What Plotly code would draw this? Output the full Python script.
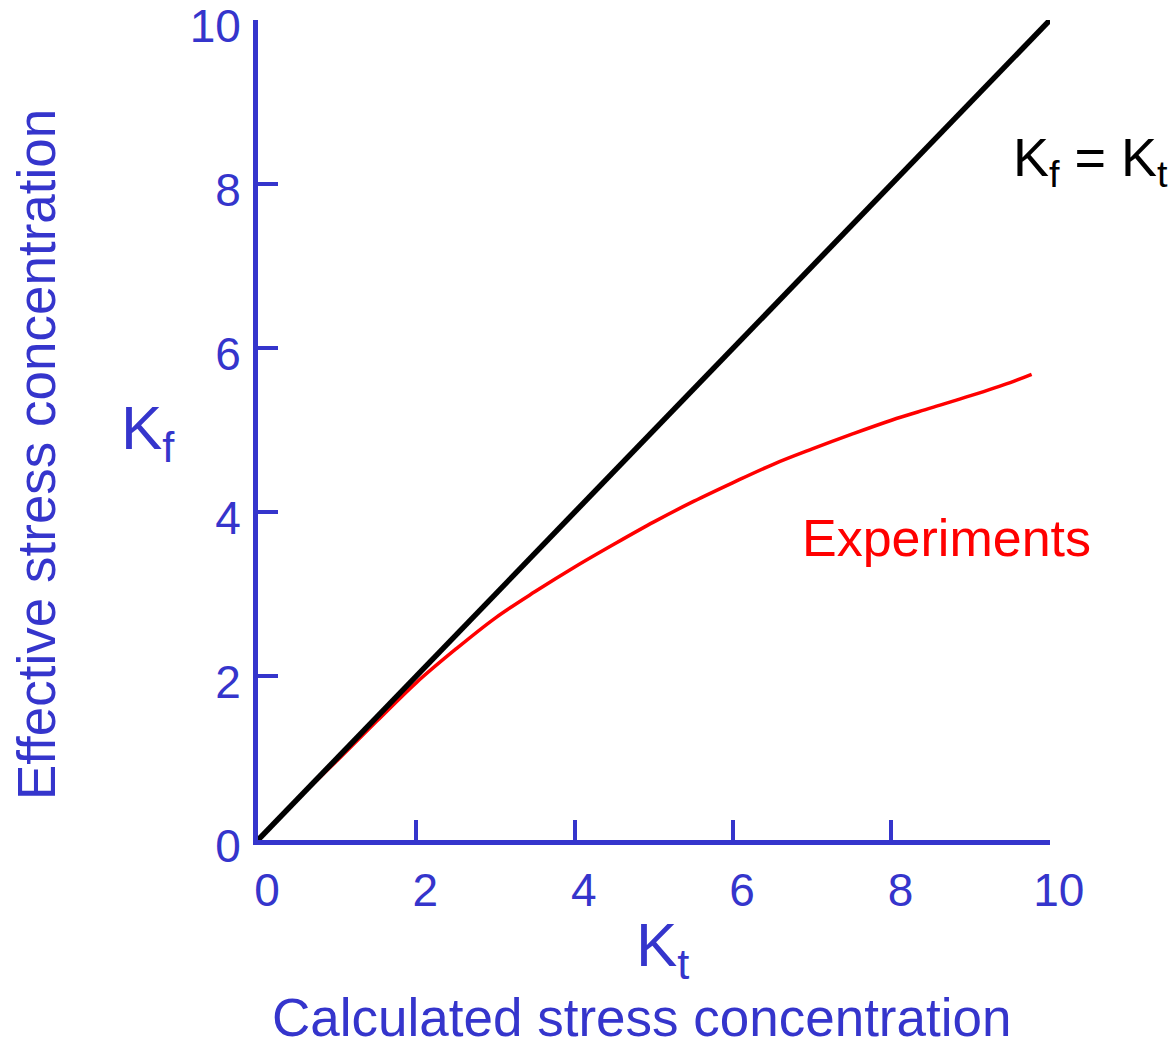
import plotly.graph_objects as go

# Calculated (Kt) vs effective (Kf) stress concentration
kt_ideal = [0, 10]
kf_ideal = [0, 10]

kt_exp = [0, 0.5, 1.0, 1.5, 2.0, 2.5, 3.0, 3.5, 4.0, 4.5, 5.0, 5.5, 6.0,
          6.5, 7.0, 7.5, 8.0, 8.5, 9.0, 9.5, 9.77]
kf_exp = [0, 0.5, 0.97, 1.45, 1.92, 2.33, 2.71, 3.03, 3.33, 3.61, 3.88, 4.13,
          4.36, 4.58, 4.77, 4.95, 5.12, 5.27, 5.42, 5.58, 5.68]

tick_vals = [0, 2, 4, 6, 8, 10]
tick_text = ["0", "2", "4", "6", "8", "10"]

BLUE = "#3535CC"
FONT = "Arial, Liberation Sans, sans-serif"

W, H = 1172, 1045
L, R, T, B = 258, 122, 20, 205
PW, PH = W - L - R, H - T - B
EPS = 0.002


def px(x):
    return (x - L) / PW


def py(y):
    return (H - B - y) / PH


fig = go.Figure()
fig.add_trace(go.Scatter(x=kt_exp, y=kf_exp, mode="lines",
                         line=dict(color="#FF0000", width=3.5, shape="spline"),
                         hoverinfo="skip", showlegend=False))
fig.add_trace(go.Scatter(x=kt_ideal, y=kf_ideal, mode="lines",
                         line=dict(color="#000000", width=5.5),
                         hoverinfo="skip", showlegend=False))

axis_common = dict(
    range=[0, 10 + EPS], tickvals=tick_vals, ticktext=tick_text,
    showline=True, linewidth=5, linecolor=BLUE,
    ticks="inside", ticklen=20, tickwidth=4, tickcolor=BLUE,
    showgrid=False, zeroline=False, automargin=False,
    tickfont=dict(family=FONT, size=46, color=BLUE),
)
fig.update_xaxes(**axis_common, ticklabelstandoff=6, ticklabelshift=9)
fig.update_yaxes(**axis_common, ticklabelstandoff=3, ticklabelshift=6)

annotations = [
    dict(text="Effective stress concentration", x=px(36), y=py(455),
         textangle=-90, font=dict(size=53, color=BLUE)),
    dict(text="K<sub>f</sub>", x=px(148), y=py(432),
         font=dict(size=62, color=BLUE)),
    dict(text="K<sub>t</sub>", x=px(662), y=py(949),
         font=dict(size=62, color=BLUE)),
    dict(text="Calculated stress concentration", x=px(641), y=py(1017),
         font=dict(size=53, color=BLUE)),
    dict(text="K<sub>f</sub> = K<sub>t</sub>", x=px(1090), y=py(161),
         font=dict(size=54, color="#000000")),
    dict(text="Experiments", x=px(946), y=py(538),
         font=dict(size=52, color="#FF0000")),
]
for a in annotations:
    a.update(xref="paper", yref="paper", showarrow=False,
             xanchor="center", yanchor="middle")
    a["font"]["family"] = FONT
fig.update_layout(
    width=W, height=H,
    margin=dict(l=L, r=R, t=T, b=B, autoexpand=False),
    plot_bgcolor="white", paper_bgcolor="white",
    annotations=annotations,
)

fig.write_html("out.html")
